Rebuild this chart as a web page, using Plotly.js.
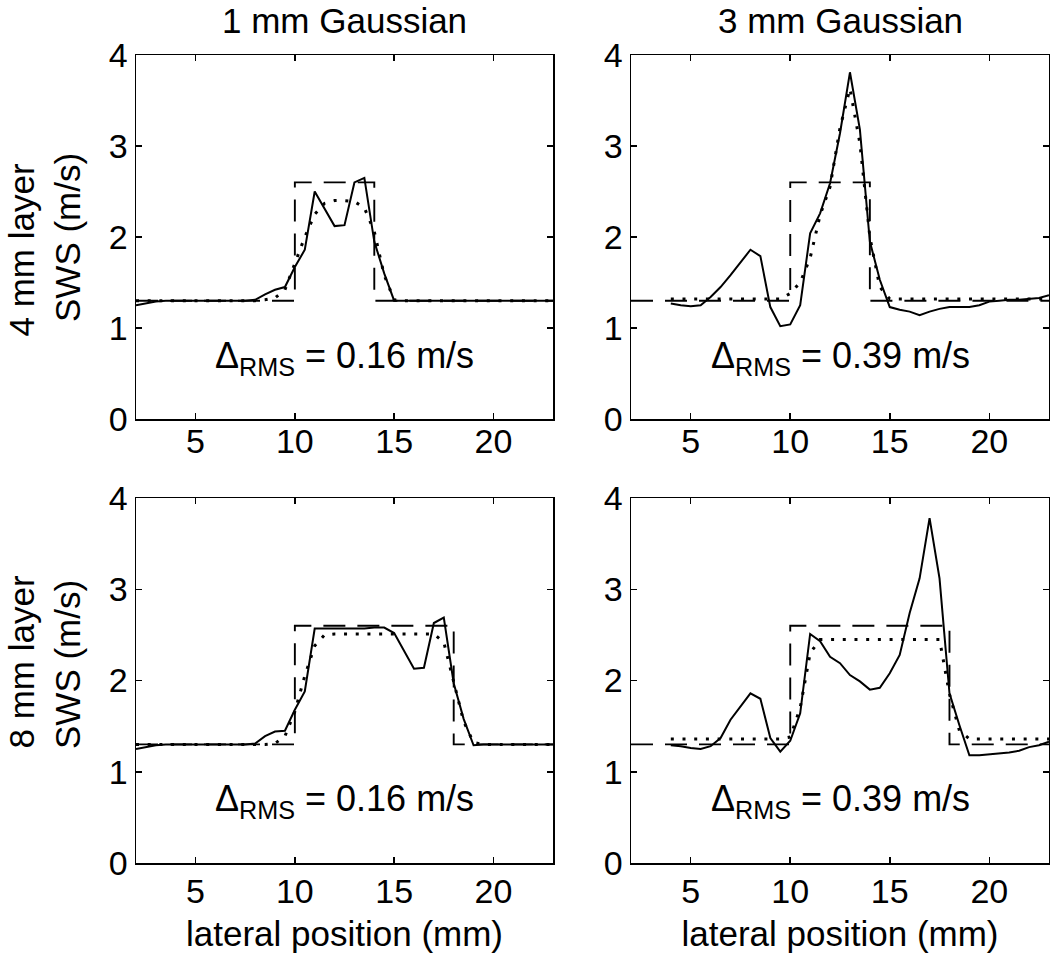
<!DOCTYPE html>
<html>
<head>
<meta charset="utf-8">
<script src="https://cdn.plot.ly/plotly-3.0.1.min.js"></script>
<style>html,body{margin:0;padding:0;background:#fff;}#chart{width:1050px;height:958px;}</style>
</head>
<body>
<div id="chart"></div>
<script>
// ---- data (lateral position in mm, SWS in m/s) ----
const xFull = [2,2.5,3,3.5,4,4.5,5,5.5,6,6.5,7,7.5,8,8.5,9,9.5,10,10.5,11,11.5,12,12.5,13,13.5,14,14.5,15,15.5,16,16.5,17,17.5,18,18.5,19,19.5,20,20.5,21,21.5,22,22.5,23];
const xPart = [4,4.5,5,5.5,6,6.5,7,7.5,8,8.5,9,9.5,10,10.5,11,11.5,12,12.5,13,13.5,14,14.5,15,15.5,16,16.5,17,17.5,18,18.5,19,19.5,20,20.5,21,21.5,22,22.5,23];

// 4 mm layer, 1 mm Gaussian
const tlMeasured = [1.25,1.27,1.29,1.30,1.30,1.30,1.30,1.30,1.30,1.30,1.30,1.30,1.31,1.37,1.42,1.45,1.67,1.86,2.50,2.31,2.12,2.13,2.60,2.65,1.95,1.60,1.30,1.30,1.30,1.30,1.30,1.30,1.30,1.30,1.30,1.30,1.30,1.30,1.30,1.30,1.30,1.30,1.30];
const tlExpected = [1.30,1.30,1.30,1.30,1.30,1.30,1.30,1.30,1.30,1.30,1.30,1.30,1.30,1.31,1.33,1.42,1.70,2.00,2.25,2.37,2.40,2.40,2.39,2.32,2.06,1.58,1.31,1.30,1.30,1.30,1.30,1.30,1.30,1.30,1.30,1.30,1.30,1.30,1.30,1.30,1.30,1.30,1.30];
// 4 mm layer, 3 mm Gaussian
const trMeasured = [1.27,1.25,1.24,1.25,1.34,1.45,1.58,1.72,1.86,1.79,1.23,1.02,1.04,1.25,2.04,2.26,2.59,3.14,3.81,3.18,1.95,1.53,1.23,1.20,1.18,1.14,1.18,1.21,1.23,1.23,1.23,1.25,1.29,1.30,1.31,1.31,1.32,1.33,1.36];
const trExpected = [1.32,1.32,1.32,1.32,1.32,1.32,1.32,1.32,1.32,1.32,1.32,1.32,1.38,1.50,1.77,2.24,2.55,3.20,3.63,3.03,2.00,1.45,1.32,1.32,1.32,1.32,1.32,1.32,1.32,1.32,1.32,1.32,1.32,1.32,1.32,1.32,1.32,1.32,1.32];
// 8 mm layer, 1 mm Gaussian
const blMeasured = [1.25,1.27,1.29,1.30,1.30,1.30,1.30,1.30,1.30,1.30,1.30,1.30,1.31,1.39,1.44,1.45,1.68,1.88,2.57,2.57,2.57,2.57,2.57,2.57,2.58,2.58,2.52,2.33,2.13,2.14,2.63,2.69,1.97,1.58,1.29,1.30,1.30,1.30,1.30,1.30,1.30,1.30,1.30];
const blExpected = [1.30,1.30,1.30,1.30,1.30,1.30,1.30,1.30,1.30,1.30,1.30,1.30,1.30,1.30,1.31,1.39,1.66,2.05,2.38,2.50,2.51,2.51,2.51,2.51,2.51,2.51,2.51,2.51,2.51,2.51,2.51,2.42,2.00,1.55,1.32,1.30,1.30,1.30,1.30,1.30,1.30,1.30,1.30];
// 8 mm layer, 3 mm Gaussian
const brMeasured = [1.29,1.28,1.26,1.25,1.28,1.37,1.57,1.72,1.86,1.80,1.37,1.22,1.34,1.64,2.51,2.43,2.26,2.19,2.06,1.99,1.90,1.92,2.08,2.28,2.74,3.12,3.78,3.12,1.86,1.51,1.18,1.18,1.19,1.20,1.21,1.23,1.27,1.29,1.33];
const brExpected = [1.36,1.36,1.36,1.36,1.36,1.36,1.36,1.36,1.36,1.36,1.36,1.36,1.38,1.70,2.30,2.45,2.45,2.45,2.45,2.45,2.45,2.45,2.45,2.45,2.45,2.45,2.45,2.45,1.85,1.45,1.36,1.36,1.36,1.36,1.36,1.36,1.36,1.36,1.36];

// true layer profiles
const true4x = [2,10,10,14,14,23];
const true8x = [2,10,10,18,18,23];
const trueY  = [1.3,1.3,2.6,2.6,1.3,1.3];

const colTitles = ["1 mm Gaussian", "3 mm Gaussian"];
const rowTitles = ["4 mm layer", "8 mm layer"];
const rmsLabels = ["0.16 m/s", "0.39 m/s", "0.16 m/s", "0.39 m/s"];
const xTickVals = [5,10,15,20];
const yTickVals = [0,1,2,3,4];

// ---- build ----
const FONT = "Liberation Sans, Arial, Helvetica, sans-serif";
const panels = [
  {xa:'x',  ya:'y',  mx:xFull, m:tlMeasured, e:tlExpected, tx:true4x},
  {xa:'x2', ya:'y2', mx:xPart, m:trMeasured, e:trExpected, tx:true4x},
  {xa:'x3', ya:'y3', mx:xFull, m:blMeasured, e:blExpected, tx:true8x},
  {xa:'x4', ya:'y4', mx:xPart, m:brMeasured, e:brExpected, tx:true8x}
];
const traces = [];
panels.forEach(p => {
  traces.push({x:p.tx, y:trueY, xaxis:p.xa, yaxis:p.ya, mode:'lines', line:{color:'#000', width:1.9, dash:'22px,12px'}, showlegend:false, hoverinfo:'skip'});
  traces.push({x:p.mx, y:p.e, xaxis:p.xa, yaxis:p.ya, mode:'lines', line:{color:'#000', width:3, dash:'3px,8.7px'}, showlegend:false});
  traces.push({x:p.mx, y:p.m, xaxis:p.xa, yaxis:p.ya, mode:'lines', line:{color:'#000', width:2}, showlegend:false});
});

const W = 1050, H = 958;
const xd = [[136/W, 553/W], [631/W, 1049/W]];
const yd = [[1-419/H, 1-55/H], [1-863/H, 1-498/H]];

function xax(dom, anchor, title, standoff) {
  const a = {domain:dom, anchor:anchor, range:[2,23], tickmode:'array', tickvals:xTickVals,
    ticks:'inside', ticklen:6, tickwidth:1.5, tickcolor:'#000', showline:true, linecolor:'#000', linewidth:1.5,
    mirror:'ticks', showgrid:false, zeroline:false, ticklabelstandoff:standoff,
    tickfont:{family:FONT, size:34, color:'#000'}, fixedrange:true};
  if (title) a.title = {text:title, font:{family:FONT, size:35, color:'#000'}, standoff:12};
  return a;
}
function yax(dom, anchor) {
  return {domain:dom, anchor:anchor, range:[0,4], tickmode:'array', tickvals:yTickVals,
    ticks:'inside', ticklen:6, tickwidth:1.5, tickcolor:'#000', showline:true, linecolor:'#000', linewidth:1.5,
    mirror:'ticks', showgrid:false, zeroline:false, tickfont:{family:FONT, size:34, color:'#000'}, fixedrange:true};
}

const annotations = [];
colTitles.forEach((t,i) => annotations.push({text:t, xref:'paper', yref:'paper', x:(xd[i][0]+xd[i][1])/2, y:1, xanchor:'center', yanchor:'top', borderpad:0, showarrow:false, font:{family:FONT, size:35, color:'#000'}}));
const rowCenters = [250, 662];
const swsCenters = [238, 665];
rowTitles.forEach((t,i) => {
  annotations.push({text:t, xref:'paper', yref:'paper', x:0, y:1-rowCenters[i]/H, xanchor:'left', yanchor:'middle', textangle:-90, borderpad:0, showarrow:false, font:{family:FONT, size:35, color:'#000'}});
  annotations.push({text:'SWS (m/s)', xref:'paper', yref:'paper', x:67/W, y:1-swsCenters[i]/H, xanchor:'center', yanchor:'middle', textangle:-90, showarrow:false, font:{family:FONT, size:35, color:'#000'}});
});
const axNames = [['x','y'],['x2','y2'],['x3','y3'],['x4','y4']];
rmsLabels.forEach((t,i) => annotations.push({text:'Δ<sub>RMS</sub> = ' + t, xref:axNames[i][0], yref:axNames[i][1], x:12.5, y:0.675, xanchor:'center', yanchor:'middle', showarrow:false, font:{family:FONT, size:36, color:'#000'}}));

const layout = {
  width:W, height:H, margin:{l:0, r:0, t:0, b:0}, paper_bgcolor:'#fff', plot_bgcolor:'#fff',
  showlegend:false,
  xaxis:xax(xd[0], 'y', null, -8), yaxis:yax(yd[0], 'x'),
  xaxis2:xax(xd[1], 'y2', null, -8), yaxis2:yax(yd[0], 'x2'),
  xaxis3:xax(xd[0], 'y3', 'lateral position (mm)', -2), yaxis3:yax(yd[1], 'x3'),
  xaxis4:xax(xd[1], 'y4', 'lateral position (mm)', -2), yaxis4:yax(yd[1], 'x4'),
  annotations:annotations
};
Plotly.newPlot('chart', traces, layout, {displayModeBar:false, staticPlot:true});
</script>
</body>
</html>
